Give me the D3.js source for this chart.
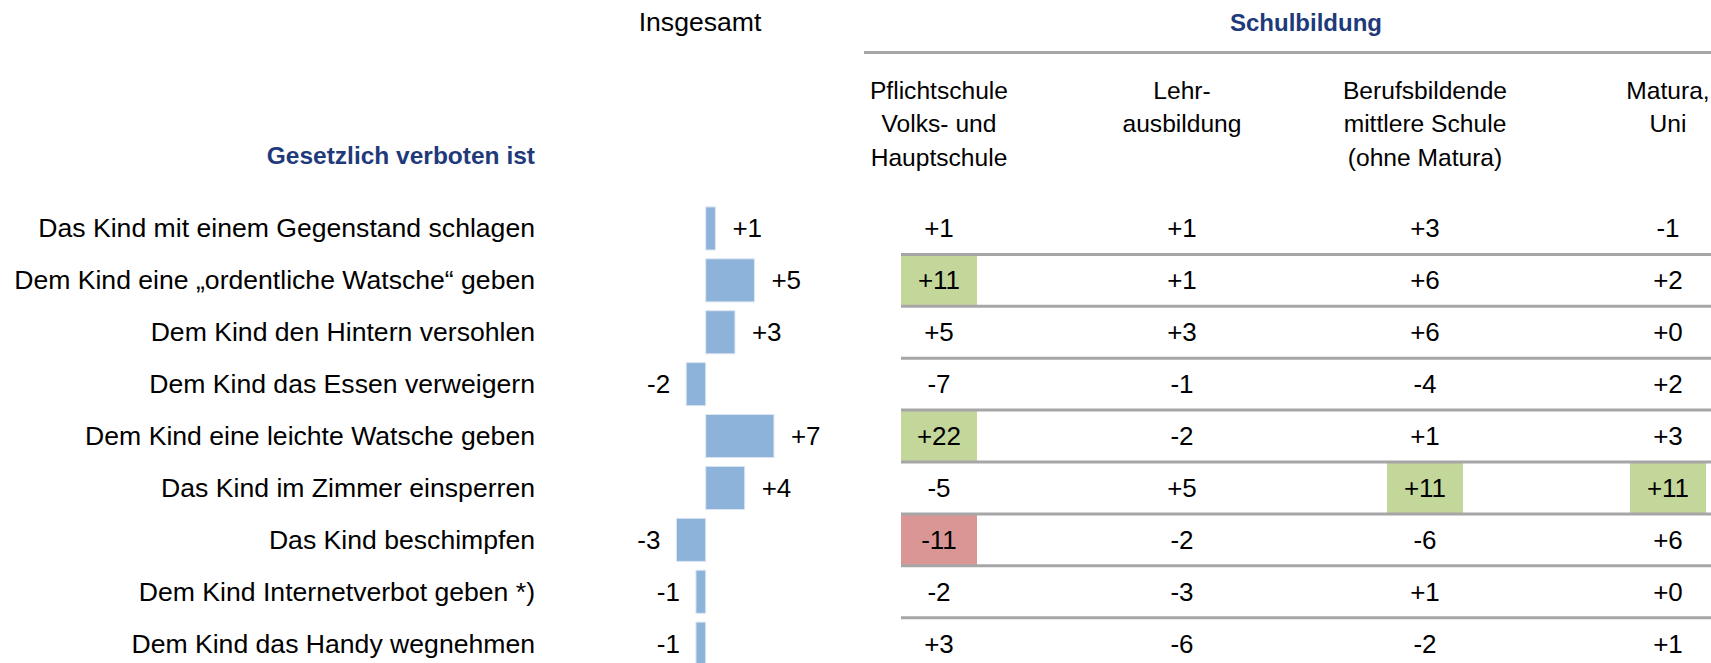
<!DOCTYPE html>
<html>
<head>
<meta charset="utf-8">
<script src="https://cdn.jsdelivr.net/npm/d3@7"></script>
<style>
  body { margin: 0; background: #fff; }
  text { font-family: "Liberation Sans", Arial, sans-serif; fill: #000; }
</style>
</head>
<body>
<div id="chartContainer"></div>
<script>
var categories = [
  "Das Kind mit einem Gegenstand schlagen",
  "Dem Kind eine \u201eordentliche Watsche\u201c geben",
  "Dem Kind den Hintern versohlen",
  "Dem Kind das Essen verweigern",
  "Dem Kind eine leichte Watsche geben",
  "Das Kind im Zimmer einsperren",
  "Das Kind beschimpfen",
  "Dem Kind Internetverbot geben *)",
  "Dem Kind das Handy wegnehmen"
];
var totalValues = [1, 5, 3, -2, 7, 4, -3, -1, -1];

var columns = ["pflicht", "lehre", "bms", "matura"];
var columnHeaders = [
  ["Pflichtschule", "Volks- und", "Hauptschule"],
  ["Lehr-", "ausbildung"],
  ["Berufsbildende", "mittlere Schule", "(ohne Matura)"],
  ["Matura,", "Uni"]
];
var pflichtValues = [1, 11, 5, -7, 22, -5, -11, -2, 3];
var lehreValues = [1, 1, 3, -1, -2, 5, -2, -3, -6];
var bmsValues = [3, 6, 6, -4, 1, 11, -6, 1, -2];
var maturaValues = [-1, 2, 0, 2, 3, 11, 6, 0, 1];

var tableValues = [pflichtValues, lehreValues, bmsValues, maturaValues];

function fmt(v) { return (v < 0 ? "-" : "+") + Math.abs(v); }

var width = 1711, height = 663;

var svg = d3.select("#chartContainer")
  .append("svg")
  .attr("width", width)
  .attr("height", height);

var y = d3.scaleBand()
  .domain(categories)
  .range([202.5, 202.5 + 51.9 * categories.length])
  .paddingInner(0.17)
  .paddingOuter(0.085);

var x = d3.scaleLinear()
  .domain([0, 10])
  .range([705.7, 803.2]);

var colX = d3.scalePoint()
  .domain(columns)
  .range([939, 1668]);

var cellW = 76;
var step = y.step();

// headings
svg.append("text")
  .attr("x", 700)
  .attr("y", 31)
  .attr("text-anchor", "middle")
  .attr("font-size", "26.6px")
  .text("Insgesamt");

svg.append("text")
  .attr("x", 1306)
  .attr("y", 30.5)
  .attr("text-anchor", "middle")
  .attr("font-size", "24px")
  .attr("font-weight", "bold")
  .style("fill", "#1f3a7a")
  .text("Schulbildung");

svg.append("line")
  .attr("x1", 864).attr("x2", width)
  .attr("y1", 52.5).attr("y2", 52.5)
  .attr("stroke", "#a6a6a6")
  .attr("stroke-width", 3);

svg.append("text")
  .attr("x", 535)
  .attr("y", 164)
  .attr("text-anchor", "end")
  .attr("font-size", "24.5px")
  .attr("font-weight", "bold")
  .style("fill", "#1f3a7a")
  .text("Gesetzlich verboten ist");

columns.forEach(function(c, i) {
  var t = svg.append("text")
    .attr("text-anchor", "middle")
    .attr("font-size", "24.6px");
  columnHeaders[i].forEach(function(line, j) {
    t.append("tspan")
      .attr("x", colX(c))
      .attr("y", 98.5 + j * 33.5)
      .text(line);
  });
});

// row labels
svg.selectAll(".label")
  .data(categories)
  .enter()
  .append("text")
  .attr("class", "label")
  .attr("x", 535)
  .attr("y", function(d) { return y(d) + y.bandwidth() / 2 + 9; })
  .attr("text-anchor", "end")
  .attr("font-size", "26.6px")
  .text(function(d) { return d; });

// bars
svg.selectAll(".bar")
  .data(totalValues)
  .enter()
  .append("rect")
  .attr("class", "bar")
  .attr("x", function(d) { return x(Math.min(0, d)); })
  .attr("y", function(d, i) { return y(categories[i]); })
  .attr("width", function(d) { return Math.abs(x(d) - x(0)); })
  .attr("height", y.bandwidth())
  .attr("fill", "#8db3da")
  .attr("stroke", "#dce6f2")
  .attr("stroke-width", 1);

svg.selectAll(".barval")
  .data(totalValues)
  .enter()
  .append("text")
  .attr("class", "barval")
  .attr("x", function(d) { return d >= 0 ? x(d) + 17 : x(d) - 16; })
  .attr("y", function(d, i) { return y(categories[i]) + y.bandwidth() / 2 + 9; })
  .attr("text-anchor", function(d) { return d >= 0 ? "start" : "end"; })
  .attr("font-size", "26px")
  .text(fmt);

// table cells
columns.forEach(function(c, ci) {
  var g = svg.append("g");
  var vals = tableValues[ci];
  g.selectAll("rect")
    .data(vals)
    .enter()
    .filter(function(d) { return Math.abs(d) >= 10; })
    .append("rect")
    .attr("x", colX(c) - cellW / 2)
    .attr("y", function(d) { return y(categories[vals.indexOf(d)]) - (step - y.bandwidth()) / 2; })
    .attr("width", cellW)
    .attr("height", step)
    .attr("fill", function(d) { return d > 0 ? "#c4d79b" : "#da9694"; });

  g.selectAll("text")
    .data(vals)
    .enter()
    .append("text")
    .attr("x", colX(c))
    .attr("y", function(d, i) { return y(categories[i]) + y.bandwidth() / 2 + 9; })
    .attr("text-anchor", "middle")
    .attr("font-size", "26px")
    .text(fmt);
});

// row separators
svg.selectAll(".sep")
  .data(categories.slice(1))
  .enter()
  .append("line")
  .attr("class", "sep")
  .attr("x1", colX(columns[0]) - cellW / 2)
  .attr("x2", width)
  .attr("y1", function(d) { return y(d) - (step - y.bandwidth()) / 2; })
  .attr("y2", function(d) { return y(d) - (step - y.bandwidth()) / 2; })
  .attr("stroke", "#a6a6a6")
  .attr("stroke-width", 3);
</script>
</body>
</html>
